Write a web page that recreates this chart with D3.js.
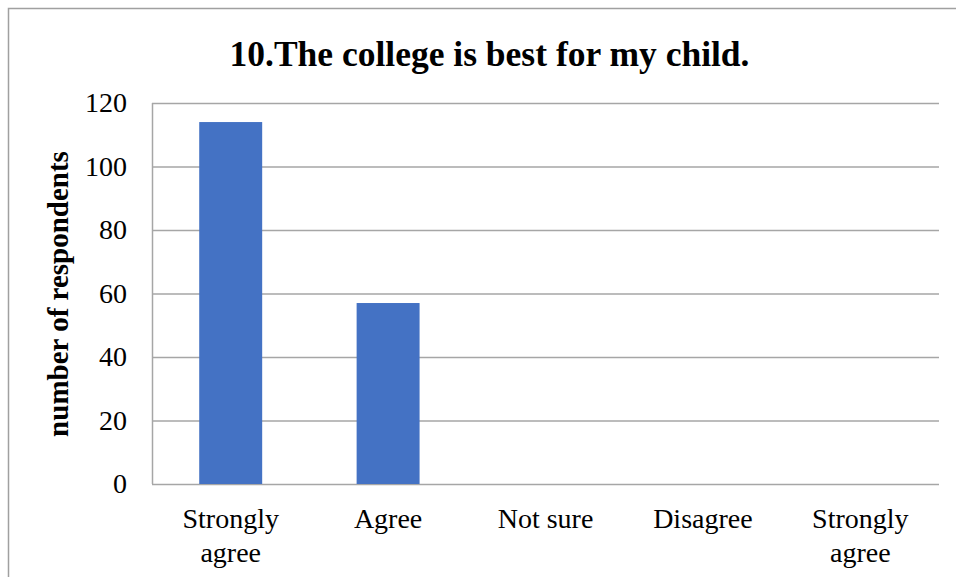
<!DOCTYPE html>
<html><head><meta charset="utf-8">
<script src="https://cdn.jsdelivr.net/npm/d3@7"></script>
<style>html,body{margin:0;padding:0;background:#fff;overflow:hidden}</style>
</head><body>
<script>
const title = "10.The college is best for my child.";
const yTitle = "number of respondents";
const categories = [["Strongly","agree"],["Agree"],["Not sure"],["Disagree"],["Strongly","agree"]];
const values = [114, 57, 0, 0, 0];
const yTicks = [0, 20, 40, 60, 80, 100, 120];

const W = 956, H = 577;
const svg = d3.select("body").append("svg").attr("width", W).attr("height", H);
svg.append("rect").attr("x", 8.5).attr("y", 8.5).attr("width", W + 20).attr("height", H + 20)
  .attr("fill", "#fff").attr("stroke", "#a0a0a0").attr("stroke-width", 1.5);

const L = 152, R = 939, T = 103, B = 484;
const x = d3.scaleBand().domain(d3.range(categories.length)).range([L, R]).paddingInner(0.6).paddingOuter(0.3);
const y = d3.scaleLinear().domain([0, 120]).range([B, T]);

const font = "'Liberation Serif','Times New Roman',serif";
svg.append("g").selectAll("line").data(yTicks).join("line")
  .attr("x1", L).attr("x2", R).attr("y1", d => y(d) + 0.5).attr("y2", d => y(d) + 0.5)
  .attr("stroke", "#a6a6a6").attr("stroke-width", 1.5);
svg.append("line").attr("x1", L + 0.5).attr("x2", L + 0.5).attr("y1", T).attr("y2", B)
  .attr("stroke", "#a6a6a6").attr("stroke-width", 1.5);

svg.append("g").selectAll("rect").data(values).join("rect")
  .attr("x", (d, i) => x(i)).attr("width", x.bandwidth())
  .attr("y", d => y(d)).attr("height", d => y(0) - y(d))
  .attr("fill", "#4472C4");

const yAxis = d3.axisLeft(y).tickValues(yTicks).tickSize(0).tickPadding(25);
const ga = svg.append("g").attr("transform", `translate(${L},0)`).call(yAxis);
ga.attr("font-family", font);
ga.select(".domain").remove();
ga.selectAll("text").attr("font-family", font).attr("font-size", 28).attr("fill", "#000");

const xl = svg.append("g").selectAll("text").data(categories).join("text")
  .attr("x", (d, i) => x(i) + x.bandwidth() / 2).attr("y", 528)
  .attr("text-anchor", "middle").attr("font-family", font).attr("font-size", 28).attr("fill", "#000");
xl.selectAll("tspan").data(d => d).join("tspan")
  .attr("x", function() { return this.parentNode.getAttribute("x"); })
  .attr("dy", (d, i) => i === 0 ? 0 : 34).text(d => d);

svg.append("text").attr("x", 489.5).attr("y", 66).attr("text-anchor", "middle")
  .attr("font-family", font).attr("font-weight", "bold").attr("font-size", 35.5).text(title);

svg.append("text").attr("transform", `translate(68,294) rotate(-90)`).attr("text-anchor", "middle")
  .attr("font-family", font).attr("font-weight", "bold").attr("font-size", 29).text(yTitle);
</script>
</body></html>
